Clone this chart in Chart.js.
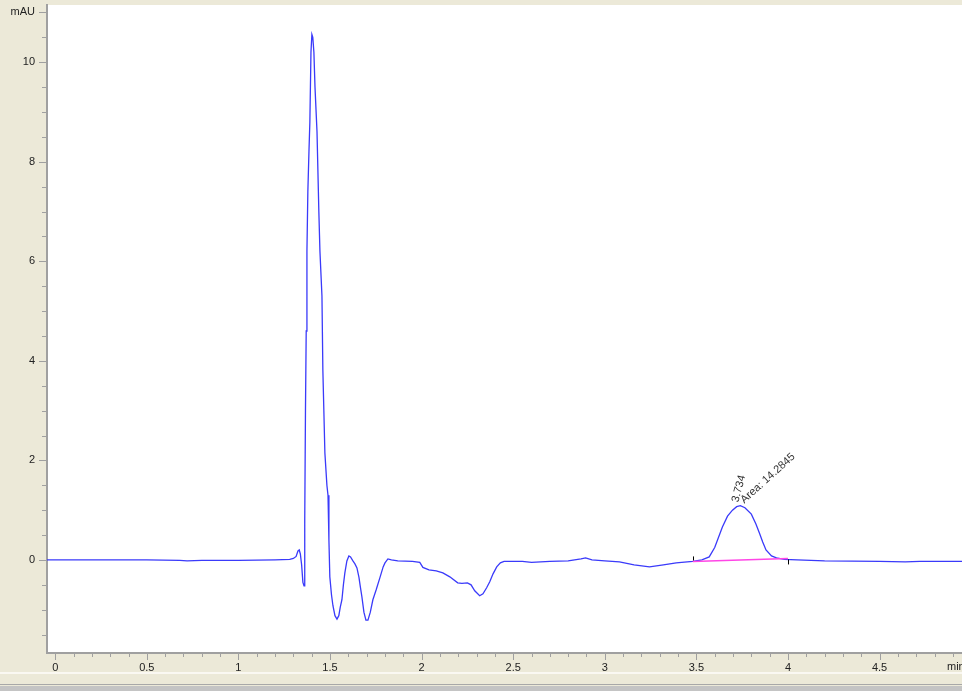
<!DOCTYPE html>
<html>
<head>
<meta charset="utf-8">
<script src="https://cdn.jsdelivr.net/npm/chart.js@4/dist/chart.umd.min.js"></script>
<style>
  html, body { margin: 0; padding: 0; background: #ece9d8; overflow: hidden; }
  canvas { display: block; }
</style>
</head>
<body>
<canvas id="chrom" width="962" height="695"></canvas>
<script>
// retention time (min) and detector signal (mAU)
const times = [-0.045, 0, 0.5, 0.68, 0.72, 0.8, 1.0, 1.2, 1.28, 1.3, 1.315, 1.325, 1.332, 1.338, 1.345, 1.352, 1.358,
    1.362, 1.366, 1.37, 1.374, 1.379, 1.385, 1.39, 1.396, 1.401, 1.406, 1.412, 1.418, 1.429, 1.439, 1.445, 1.456,
    1.461, 1.472, 1.483, 1.489, 1.494, 1.499, 1.508, 1.516, 1.527, 1.538, 1.548, 1.556, 1.565, 1.573, 1.581, 1.592,
    1.603, 1.612, 1.625, 1.636, 1.647, 1.658, 1.666, 1.674, 1.685, 1.696, 1.707, 1.72, 1.734, 1.752, 1.772, 1.79,
    1.8, 1.816, 1.835, 1.87, 1.95, 1.99, 2.007, 2.04, 2.08, 2.116, 2.154, 2.197, 2.22, 2.25, 2.27, 2.29, 2.317,
    2.335, 2.355, 2.372, 2.39, 2.41, 2.43, 2.45, 2.55, 2.6, 2.7, 2.8, 2.87, 2.895, 2.93, 3.0, 3.08, 3.16, 3.244,
    3.32, 3.39, 3.48, 3.53, 3.57, 3.6, 3.642, 3.67, 3.697, 3.72, 3.74, 3.765, 3.8, 3.825, 3.844, 3.862, 3.88,
    3.91, 3.937, 3.98, 4.05, 4.2, 4.5, 4.64, 4.72, 4.95];
const signal = [0, 0, 0, -0.01, -0.02, -0.01, -0.01, 0, 0.01, 0.03, 0.07, 0.18, 0.2, 0.12, -0.1, -0.45, -0.52,
    0.8, 3.0, 4.6, 6.2, 7.4, 8.2, 8.8, 10.2, 10.56, 10.5, 10.2, 9.5, 8.6, 7.0, 6.2, 5.3,
    3.8, 2.15, 1.5, 1.3, 0.4, -0.34, -0.7, -0.92, -1.12, -1.19, -1.12, -0.95, -0.8, -0.5, -0.26, -0.02,
    0.08, 0.06, -0.02, -0.08, -0.16, -0.35, -0.55, -0.74, -1.05, -1.21, -1.21, -1.05, -0.8, -0.6, -0.36, -0.14,
    -0.06, 0.02, 0, -0.02, -0.03, -0.05, -0.15, -0.2, -0.22, -0.26, -0.34, -0.46, -0.47, -0.46, -0.5, -0.62, -0.72,
    -0.68, -0.56, -0.44, -0.28, -0.14, -0.06, -0.03, -0.03, -0.05, -0.03, -0.02, 0.02, 0.04, 0, -0.02, -0.04, -0.1, -0.14,
    -0.1, -0.06, -0.03, 0, 0.06, 0.25, 0.66, 0.88, 1.0, 1.07, 1.09, 1.05, 0.92, 0.72, 0.54, 0.36, 0.2,
    0.08, 0.04, 0.01, 0, -0.02, -0.03, -0.04, -0.03, -0.03];

// integration baseline of the peak
const baselineTimes = [3.48, 4.0];
const baselineSignal = [-0.03, 0.03];

// peak label
const peakTime = 3.734;
const peakHeight = 1.09;
const peakArea = 14.2845;

const xTickLabels = [0, 0.5, 1, 1.5, 2, 2.5, 3, 3.5, 4, 4.5];
const yTickLabels = [0, 2, 4, 6, 8, 10];

const axisGrey = '#a0a0a0';
const labelFont = { family: 'Liberation Sans', size: 11 };

const chromePlugin = {
    id: 'chrome',
    beforeDraw: (chart) => {
        const ctx = chart.ctx;
        const a = chart.chartArea;
        ctx.save();
        ctx.fillStyle = '#ece9d8';
        ctx.fillRect(0, 0, chart.width, chart.height);
        ctx.fillStyle = '#ffffff';
        ctx.fillRect(a.left, a.top, a.right - a.left, a.bottom - a.top);
        // window chrome under the axis
        ctx.fillStyle = '#faf8f2';
        ctx.fillRect(0, 672, chart.width, 2);
        ctx.fillStyle = '#a8a8a8';
        ctx.fillRect(0, 684, chart.width, 1);
        ctx.fillStyle = '#c4c4c4';
        ctx.fillRect(0, 686, chart.width, 5);
        ctx.fillStyle = '#ffffff';
        ctx.fillRect(0, 691, chart.width, 4);
        ctx.restore();
    },
    afterDraw: (chart) => {
        const ctx = chart.ctx;
        const xs = chart.scales.x;
        const ys = chart.scales.y;
        ctx.save();
        ctx.strokeStyle = axisGrey;
        ctx.lineWidth = 1;
        ctx.beginPath();
        // x ticks every 0.1 min, longer every 0.5
        for (let i = 0; i <= 49; i++) {
            const px = Math.round(xs.getPixelForValue(i / 10)) + 0.5;
            const len = i % 5 === 0 ? 6 : 3;
            ctx.moveTo(px, xs.top + 1);
            ctx.lineTo(px, xs.top + 1 + len);
        }
        // y ticks every 0.5 mAU, longer every 2
        for (let i = -3; i <= 22; i++) {
            const py = Math.round(ys.getPixelForValue(i / 2)) + 0.5;
            const len = (i % 4 === 0 || i === 22) ? 7 : 4;
            ctx.moveTo(ys.right - 1, py);
            ctx.lineTo(ys.right - 1 - len, py);
        }
        ctx.stroke();

        // axis units in place of the last labels
        ctx.fillStyle = '#222';
        ctx.font = '11px "Liberation Sans"';
        ctx.textBaseline = 'middle';
        ctx.textAlign = 'right';
        ctx.fillText('mAU', ys.right - 12, ys.getPixelForValue(11));
        ctx.textAlign = 'left';
        ctx.fillText('min', xs.right - 15, xs.top + 14);

        // baseline start / end marks
        ctx.strokeStyle = '#000';
        ctx.beginPath();
        const bx0 = Math.round(xs.getPixelForValue(baselineTimes[0])) + 0.5;
        const by0 = ys.getPixelForValue(baselineSignal[0]);
        ctx.moveTo(bx0, by0 - 1);
        ctx.lineTo(bx0, by0 - 5);
        const bx1 = Math.round(xs.getPixelForValue(baselineTimes[1])) + 0.5;
        const by1 = ys.getPixelForValue(baselineSignal[1]);
        ctx.moveTo(bx1, by1 + 1);
        ctx.lineTo(bx1, by1 + 6);
        ctx.stroke();

        // peak annotation
        const px = xs.getPixelForValue(peakTime);
        const py = ys.getPixelForValue(peakHeight);
        ctx.fillStyle = '#333';
        ctx.font = '11px "Liberation Sans"';
        ctx.textAlign = 'left';
        ctx.textBaseline = 'alphabetic';
        ctx.save();
        ctx.translate(px - 1, py - 3);
        ctx.rotate(-75 * Math.PI / 180);
        ctx.fillText(peakTime.toFixed(3), 0, 0);
        ctx.restore();
        ctx.save();
        ctx.translate(px + 5, py - 2);
        ctx.rotate(-42 * Math.PI / 180);
        ctx.fillText('Area: ' + peakArea, 0, 0);
        ctx.restore();
        ctx.restore();
    }
};

new Chart(document.getElementById('chrom'), {
    type: 'line',
    data: {
        datasets: [
            {
                label: 'signal',
                data: times.map((t, i) => ({ x: t, y: signal[i] })),
                borderColor: 'rgb(58, 58, 250)',
                borderWidth: 1.3,
                pointRadius: 0,
                tension: 0,
                order: 1
            },
            {
                label: 'baseline',
                data: baselineTimes.map((t, i) => ({ x: t, y: baselineSignal[i] })),
                borderColor: 'rgb(255, 70, 230)',
                borderWidth: 1.5,
                pointRadius: 0,
                tension: 0,
                order: 0
            }
        ]
    },
    options: {
        responsive: false,
        animation: false,
        events: [],
        layout: { padding: { top: 5, left: 0, right: 0, bottom: 0 } },
        plugins: { legend: { display: false }, tooltip: { enabled: false } },
        scales: {
            x: {
                type: 'linear',
                min: -0.045,
                max: 4.95,
                afterBuildTicks: (scale) => { scale.ticks = xTickLabels.map(v => ({ value: v })); },
                afterFit: (scale) => { scale.height = 42; scale.paddingLeft = 0; scale.paddingRight = 0; },
                ticks: { color: '#222', font: labelFont, padding: 2, maxRotation: 0, autoSkip: false, callback: (v) => String(v) },
                grid: { drawOnChartArea: false, tickLength: 6, tickColor: 'rgba(0,0,0,0)' },
                border: { color: axisGrey, width: 2 }
            },
            y: {
                min: -1.87,
                max: 11.15,
                afterBuildTicks: (scale) => { scale.ticks = yTickLabels.map(v => ({ value: v })); },
                afterFit: (scale) => { scale.width = 47; scale.paddingTop = 0; scale.paddingBottom = 0; },
                ticks: { color: '#222', font: labelFont, padding: 5, callback: (v) => String(v) },
                grid: { drawOnChartArea: false, tickLength: 7, tickColor: 'rgba(0,0,0,0)' },
                border: { color: axisGrey, width: 2 }
            }
        }
    },
    plugins: [chromePlugin]
});
</script>
</body>
</html>
